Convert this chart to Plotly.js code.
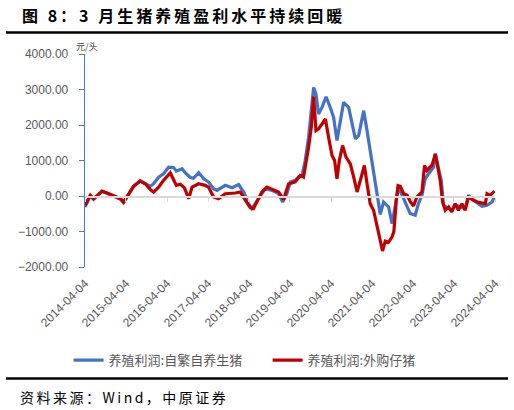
<!DOCTYPE html>
<html>
<head>
<meta charset="utf-8">
<script src="https://cdn.plot.ly/plotly-3.0.1.min.js"></script>
<style>
  html, body { margin: 0; padding: 0; background: #fff; }
  #graph { width: 514px; height: 410px; }
  .annotation[data-index="0"] text { letter-spacing: 3px; }
  .annotation[data-index="2"] text { letter-spacing: 2.5px; }
</style>
</head>
<body>
<div id="graph"></div>
<script>
// weekly pig farming profit (yuan/head)
const blueName = '养殖利润:自繁自养生猪';
const blueDates = ['2014-04-04','2014-05-21','2014-06-20','2014-07-20','2014-09-03','2014-10-17','2014-12-15',
  '2015-02-14','2015-03-13','2015-04-27','2015-06-11','2015-08-09','2015-09-23','2015-11-07','2015-12-06',
  '2016-01-20','2016-03-04','2016-04-18','2016-06-01','2016-06-26','2016-08-16','2016-09-14','2016-10-29','2016-11-25',
  '2017-01-11','2017-02-25','2017-04-09','2017-05-23','2017-06-23','2017-09-05','2017-11-04',
  '2018-01-02','2018-02-16','2018-03-31','2018-04-30','2018-05-29','2018-07-13','2018-08-27','2018-10-26','2018-12-24',
  '2019-01-29','2019-03-08','2019-04-07','2019-05-21','2019-06-19','2019-07-19','2019-08-18','2019-09-17','2019-10-11','2019-11-01','2019-11-22','2019-12-15',
  '2020-01-15','2020-02-20','2020-03-28','2020-04-27','2020-05-27','2020-06-26','2020-07-25','2020-09-08','2020-10-08','2020-11-07','2020-12-06',
  '2021-01-20','2021-02-19','2021-03-19','2021-04-18','2021-05-18','2021-06-17','2021-07-16','2021-08-30','2021-09-30','2021-10-28','2021-11-27',
  '2022-01-11','2022-02-11','2022-03-10','2022-04-24','2022-05-23','2022-06-23','2022-07-22','2022-08-21','2022-10-05','2022-10-20','2022-11-13','2022-12-12',
  '2023-01-02','2023-02-16','2023-03-16','2023-04-15','2023-05-29','2023-07-13','2023-08-12','2023-09-26','2023-12-10',
  '2024-01-24','2024-03-08','2024-03-29'];
const blueVals = [-310,0,-100,0,130,75,-10,
  -90,-190,50,280,430,350,270,345,
  530,625,810,800,700,767,650,520,500,
  660,486,393,206,160,300,234,
  320,112,-215,-355,-215,-28,205,160,65,
  -170,65,393,440,533,552,1000,1655,2400,3057,2870,2310,
  2496,2796,2496,2216,1561,2122,2637,2496,2029,1608,1702,
  2403,1842,1281,720,160,-520,-168,-308,-776,-215,252,
  -75,-308,-495,-542,-215,19,486,627,813,1187,813,440,
  -262,-355,-402,-250,-300,-350,19,-122,-290,
  -262,-168,-28];

const redName = '养殖利润:外购仔猪';
const redDates = ['2014-04-04','2014-05-21','2014-06-20','2014-07-20','2014-09-03','2014-10-17','2014-12-15',
  '2015-02-14','2015-03-13','2015-04-27','2015-06-11','2015-08-09','2015-09-23','2015-11-07','2015-12-06',
  '2016-01-20','2016-03-04','2016-05-03','2016-06-26','2016-08-01','2016-09-06','2016-10-14','2016-11-13',
  '2017-01-11','2017-03-10','2017-04-09','2017-05-23','2017-07-07','2017-09-05','2017-12-03',
  '2018-01-17','2018-03-02','2018-04-15','2018-05-14','2018-06-14','2018-07-28','2018-09-11','2018-11-09','2018-12-24',
  '2019-02-07','2019-03-22','2019-05-21','2019-07-04','2019-08-03','2019-08-24','2019-09-17','2019-10-11','2019-11-01','2019-11-22','2019-12-15',
  '2020-01-15','2020-02-14','2020-03-13','2020-04-13','2020-05-06','2020-05-27','2020-06-17','2020-07-16','2020-08-16','2020-09-23','2020-10-23','2020-11-22','2020-12-21',
  '2021-01-26','2021-02-19','2021-03-19','2021-04-18','2021-05-18','2021-06-17','2021-07-07','2021-07-31','2021-08-30','2021-09-30','2021-10-16','2021-11-07','2021-11-22','2021-12-12',
  '2022-01-11','2022-02-11','2022-03-10','2022-04-09','2022-05-09','2022-06-23','2022-07-16','2022-08-07','2022-09-21','2022-10-20','2022-11-13','2022-12-03','2022-12-24',
  '2023-01-17','2023-02-16','2023-03-16','2023-04-15','2023-05-14','2023-06-14','2023-07-13','2023-08-12','2023-09-26','2023-11-10',
  '2024-01-09','2024-01-24','2024-02-22','2024-03-22','2024-03-29'];
const redVals = [-262,20,-75,20,140,85,0,
  -75,-170,65,270,420,345,180,110,
  250,440,650,300,330,230,-75,250,
  345,300,250,-28,-75,65,85,
  112,-120,-327,-355,-168,112,250,160,110,
  -100,340,400,580,533,907,1374,1935,2800,1842,1889,
  2029,2170,1655,1140,1000,486,1000,1421,1094,907,533,112,440,
  860,346,-215,-402,-870,-1290,-1550,-1270,-1300,-1150,-1000,-100,290,270,
  65,19,-150,-280,-28,112,860,720,870,1187,720,440,-168,
  -402,-308,-450,-215,-402,-215,-400,-28,-122,-180,
  -215,65,19,112,140];

const tickDates = ['2014-04-04','2015-04-04','2016-04-04','2017-04-04','2018-04-04','2019-04-04',
  '2020-04-04','2021-04-04','2022-04-04','2023-04-04','2024-04-04'];

const cjk = '"Noto Sans CJK SC", "Liberation Sans", sans-serif';
const lat = '"Liberation Sans", Arial, sans-serif';

var blueTrace = {
    x: blueDates,
    y: blueVals,
    name: blueName,
    mode: 'lines',
    type: 'scatter',
    line: {color: '#4472C4', width: 3.2}
};

var redTrace = {
    x: redDates,
    y: redVals,
    name: redName,
    mode: 'lines',
    type: 'scatter',
    line: {color: '#C00000', width: 3.2}
};

// empty trace so the zero-level axis (with year ticks) gets drawn
var zeroAxisTrace = {x: [], y: [], xaxis: 'x2', showlegend: false, hoverinfo: 'skip', type: 'scatter'};

const layout = {
    width: 514,
    height: 410,
    paper_bgcolor: '#fff',
    plot_bgcolor: '#fff',
    margin: {l: 85, r: 19, t: 54, b: 143},
    showlegend: true,
    xaxis: {
        type: 'date',
        range: ['2014-04-04', '2024-04-04'],
        tickvals: tickDates,
        tickformat: '%Y-%m-%d',
        tickangle: -45,
        ticks: '',
        showgrid: false,
        zeroline: false,
        showline: false,
        ticklabelstandoff: 6,
        tickfont: {family: lat, size: 12, color: '#595959'}
    },
    xaxis2: {
        type: 'date',
        overlaying: 'x',
        matches: 'x',
        anchor: 'free',
        position: 1 / 3,
        tickvals: tickDates,
        showticklabels: false,
        showgrid: false,
        zeroline: false,
        showline: true,
        linecolor: '#d9d9d9',
        linewidth: 1.5,
        ticks: 'outside',
        ticklen: 4,
        tickcolor: '#d9d9d9',
        tickwidth: 1
    },
    yaxis: {
        range: [-2000, 4000],
        dtick: 1000,
        tickformat: '.2f',
        showgrid: false,
        zeroline: false,
        showline: true,
        linecolor: '#4a7bd0',
        linewidth: 1.3,
        ticks: 'outside',
        ticklen: 5,
        tickcolor: '#4a7bd0',
        ticklabelstandoff: 8,
        tickfont: {family: lat, size: 12, color: '#595959'}
    },
    legend: {
        orientation: 'h',
        x: -0.04,
        xanchor: 'left',
        y: -0.437,
        yanchor: 'middle',
        itemwidth: 30,
        entrywidth: 154,
        font: {family: cjk, size: 13, color: '#595959'}
    },
    annotations: [
        {text: '<b>图 8：3 月生猪养殖盈利水平持续回暖</b>', xref: 'paper', yref: 'paper',
         x: -0.1585, y: 1.183, xanchor: 'left', yanchor: 'middle', align: 'left', showarrow: false,
         font: {family: cjk, size: 16, color: '#000'}},
        {text: '元/头', xref: 'paper', yref: 'paper',
         x: -0.026, y: 1.033, xanchor: 'left', yanchor: 'middle', showarrow: false,
         font: {family: cjk, size: 9, color: '#404040'}},
        {text: '资料来源：Wind，中原证券', xref: 'paper', yref: 'paper',
         x: -0.1634, y: -0.610, xanchor: 'left', yanchor: 'middle', align: 'left', showarrow: false,
         font: {family: cjk, size: 14, color: '#000'}}
    ],
    shapes: [
        {type: 'line', xref: 'paper', yref: 'paper', x0: -0.1927, x1: 1.0317, y0: 1.101, y1: 1.101,
         line: {color: '#000', width: 2.5}},
        {type: 'line', xref: 'paper', yref: 'paper', x0: -0.1927, x1: 1.0317, y0: -0.5235, y1: -0.5235,
         line: {color: '#000', width: 2.5}}
    ]
};

Plotly.newPlot('graph', [blueTrace, redTrace, zeroAxisTrace], layout, {staticPlot: true});
</script>
</body>
</html>
